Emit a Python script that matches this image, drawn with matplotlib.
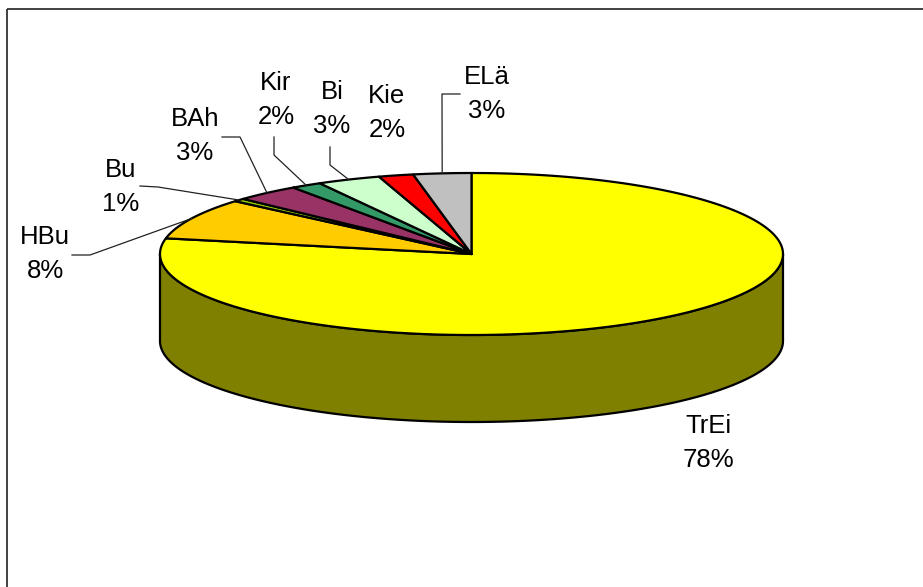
import numpy as np
import matplotlib.pyplot as plt
from matplotlib.patches import Polygon, Rectangle

# slice data (clockwise from 12 o'clock)
labels = ['TrEi', 'HBu', 'Bu', 'BAh', 'Kir', 'Bi', 'Kie', 'ELä']
values = [78.1, 8.2, 0.6, 3.4, 1.6, 3.3, 1.8, 3.0]
top_colors = ['#FFFF00', '#FFCC00', '#99CC00', '#993366', '#339966', '#CCFFCC', '#FF0000', '#C0C0C0']
side_colors = ['#808000', '#806600', '#4D6600', '#4D1A33', '#1A4D33', '#668066', '#800000', '#606060']

# label boxes (text centre) and leader elbows, in pixels
label_pos = {'TrEi': (708, 440), 'HBu': (45, 251), 'Bu': (121, 184), 'BAh': (195, 133),
             'Kir': (276, 97), 'Bi': (332, 106), 'Kie': (387, 110), 'ELä': (487, 91)}
leaders = {'HBu': [(72, 255), (90, 255)], 'Bu': [(140, 186), (158, 187)],
           'BAh': [(222, 137), (240, 137)], 'Kir': [(274, 137), (274, 155)],
           'Bi': [(330, 147), (330, 165)], 'ELä': [(460, 94), (442, 94)]}

W, H = 923, 587
cx, cy = 471.5, 254
a, b = 311.5, 81
depth = 87

fig = plt.figure(figsize=(W / 100, H / 100), dpi=100)
ax = fig.add_axes([0, 0, 1, 1])
ax.set_xlim(0, W)
ax.set_ylim(H, 0)
ax.axis('off')

ax.add_patch(Rectangle((7, 9), 2000, 2000, fill=False, ec='#333333', lw=1.3))


def ell(t, dy=0):
    return cx + a * np.cos(np.radians(t)), cy - b * np.sin(np.radians(t)) + dy


total = sum(values)
angles = []
start = 90.0
for v in values:
    end = start - v / total * 360.0
    angles.append((start, end))
    start = end

# sides (front half only, theta in [-180, 0] after wrapping)
for (s, e), col in zip(angles, side_colors):
    for shift in (0, -360, 360):
        lo = max(e + shift, -180)
        hi = min(s + shift, 0)
        if hi > lo:
            t = np.linspace(hi, lo, 200)
            x, y = ell(t)
            xb, yb = ell(t[::-1], depth)
            pts = np.column_stack([np.r_[x, xb], np.r_[y, yb]])
            ax.add_patch(Polygon(pts, closed=True, fc=col, ec='black', lw=1.6, joinstyle='round'))

# tops
for (s, e), col in zip(angles, top_colors):
    t = np.linspace(s, e, max(int(abs(s - e)) * 2, 10))
    x, y = ell(t)
    pts = np.column_stack([np.r_[cx, x], np.r_[cy, y]])
    ax.add_patch(Polygon(pts, closed=True, fc=col, ec='black', lw=1.6, joinstyle='round'))

# labels and leader lines
for lab, v, (s, e) in zip(labels, values, angles):
    tx, ty = label_pos[lab]
    ax.text(tx, ty - 7, lab, ha='center', va='baseline', fontsize=18.5,
            family='Liberation Sans', color='black')
    ax.text(tx, ty + 27, f'{round(v)}%', ha='center', va='baseline', fontsize=18.5,
            family='Liberation Sans', color='black')
    if lab in leaders:
        mx, my = ell((s + e) / 2)
        pts = leaders[lab] + [(mx, my)]
        ax.plot([p[0] for p in pts], [p[1] for p in pts], color='#222222', lw=0.9)

fig.savefig('out.png', dpi=100)
